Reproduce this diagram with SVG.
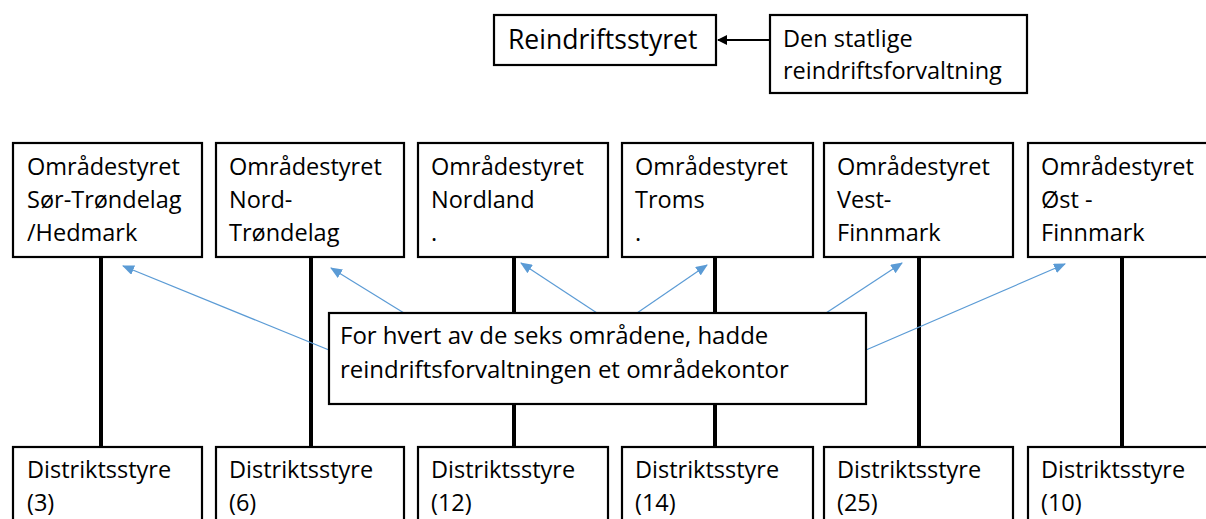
<svg xmlns="http://www.w3.org/2000/svg" width="1206" height="519" viewBox="0 0 1206 519">
<style>
.box{fill:#fff;stroke:#000;stroke-width:2.2}
.t{font-family:"Open Sans","Noto Sans",sans-serif;font-size:23.5px;fill:#000}
.c{font-family:"Open Sans","Noto Sans",sans-serif;font-size:24px;fill:#000}
.title{font-family:"Open Sans","Noto Sans",sans-serif;font-size:26.5px;fill:#000}
.vl{stroke:#000;stroke-width:4}
.bl{stroke:#5B9BD5;stroke-width:1.2;fill:none;marker-end:url(#ba)}
</style>
<defs>
<marker id="ba" markerUnits="userSpaceOnUse" markerWidth="12" markerHeight="10" refX="11" refY="5" orient="auto">
<path d="M0,0 L12,5 L0,10 Z" fill="#5B9BD5"/>
</marker>
<marker id="ka" markerUnits="userSpaceOnUse" markerWidth="10" markerHeight="10" refX="9" refY="5" orient="auto">
<path d="M0,0 L10,5 L0,10 Z" fill="#000"/>
</marker>
</defs>
<rect width="1206" height="519" fill="#fff"/>
<g id="connectors">
<line x1="770" y1="40" x2="718" y2="40" stroke="#000" stroke-width="2" marker-end="url(#ka)"/>
<line class="vl" x1="101" y1="257" x2="101" y2="447"/>
<line class="vl" x1="311" y1="257" x2="311" y2="447"/>
<line class="vl" x1="514" y1="257" x2="514" y2="447"/>
<line class="vl" x1="715" y1="257" x2="715" y2="447"/>
<line class="vl" x1="919" y1="257" x2="919" y2="447"/>
<line class="vl" x1="1122" y1="257" x2="1122" y2="447"/>
</g>
<g id="reindriftsstyret"><rect class="box" x="494" y="15" width="222" height="50"/><text class="title" x="508" y="49">Reindriftsstyret</text></g>
<g id="forvaltning"><rect class="box" x="770" y="15" width="257" height="78"/><text class="t" x="783" y="47">Den statlige</text><text class="t" x="783" y="79">reindriftsforvaltning</text></g>
<g id="omr1"><rect class="box" x="13" y="143" width="189" height="114"/><text class="t" x="27" y="175">Områdestyret</text><text class="t" x="27" y="208">Sør-Trøndelag</text><text class="t" x="27" y="241">/Hedmark</text></g>
<g id="omr2"><rect class="box" x="216" y="143" width="188" height="114"/><text class="t" x="229" y="175">Områdestyret</text><text class="t" x="229" y="208">Nord-</text><text class="t" x="229" y="241">Trøndelag</text></g>
<g id="omr3"><rect class="box" x="418" y="143" width="190" height="114"/><text class="t" x="431" y="175">Områdestyret</text><text class="t" x="431" y="208">Nordland</text><text class="t" x="431" y="241">.</text></g>
<g id="omr4"><rect class="box" x="622" y="143" width="191" height="114"/><text class="t" x="635" y="175">Områdestyret</text><text class="t" x="635" y="208">Troms</text><text class="t" x="635" y="241">.</text></g>
<g id="omr5"><rect class="box" x="824" y="143" width="189" height="114"/><text class="t" x="837" y="175">Områdestyret</text><text class="t" x="837" y="208">Vest-</text><text class="t" x="837" y="241">Finnmark</text></g>
<g id="omr6"><rect class="box" x="1028" y="143" width="190" height="114"/><text class="t" x="1041" y="175">Områdestyret</text><text class="t" x="1041" y="208">Øst -</text><text class="t" x="1041" y="241">Finnmark</text></g>
<g id="dist1"><rect class="box" x="13" y="447" width="189" height="90"/><text class="t" x="27" y="478">Distriktsstyre</text><text class="t" x="27" y="511">(3)</text></g>
<g id="dist2"><rect class="box" x="216" y="447" width="188" height="90"/><text class="t" x="229" y="478">Distriktsstyre</text><text class="t" x="229" y="511">(6)</text></g>
<g id="dist3"><rect class="box" x="418" y="447" width="190" height="90"/><text class="t" x="431" y="478">Distriktsstyre</text><text class="t" x="431" y="511">(12)</text></g>
<g id="dist4"><rect class="box" x="622" y="447" width="191" height="90"/><text class="t" x="635" y="478">Distriktsstyre</text><text class="t" x="635" y="511">(14)</text></g>
<g id="dist5"><rect class="box" x="824" y="447" width="189" height="90"/><text class="t" x="837" y="478">Distriktsstyre</text><text class="t" x="837" y="511">(25)</text></g>
<g id="dist6"><rect class="box" x="1028" y="447" width="190" height="90"/><text class="t" x="1041" y="478">Distriktsstyre</text><text class="t" x="1041" y="511">(10)</text></g>
<g id="callout-arrows">
<line class="bl" x1="329" y1="350" x2="123" y2="266"/>
<line class="bl" x1="404" y1="313" x2="331" y2="268"/>
<line class="bl" x1="597" y1="313" x2="521" y2="263"/>
<line class="bl" x1="637" y1="313" x2="707" y2="265"/>
<line class="bl" x1="826" y1="313" x2="902" y2="263"/>
<line class="bl" x1="866" y1="350" x2="1065" y2="264"/>
</g>
<g id="callout"><rect class="box" x="329" y="313" width="537" height="91"/><text class="c" x="340" y="344">For hvert av de seks områdene, hadde</text><text class="c" x="340" y="378">reindriftsforvaltningen et områdekontor</text></g>
</svg>
